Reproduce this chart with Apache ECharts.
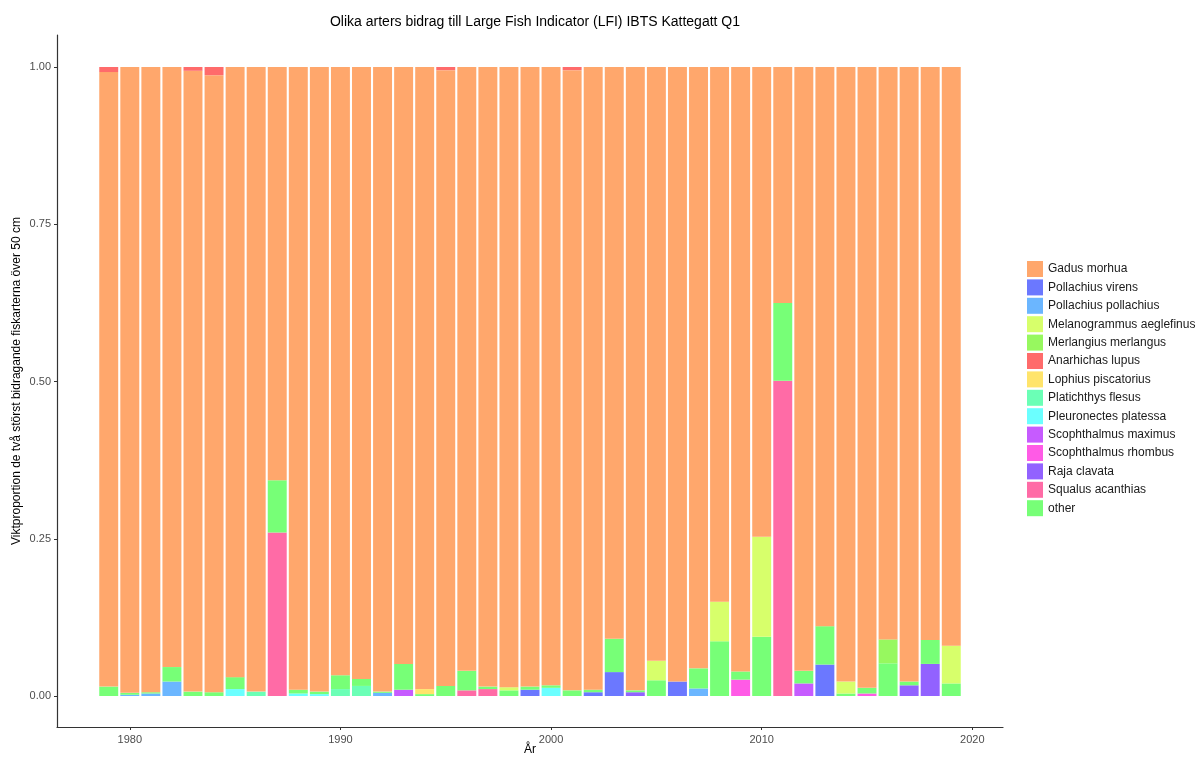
<!DOCTYPE html>
<html>
<head>
<meta charset="utf-8">
<script src="https://cdn.jsdelivr.net/npm/echarts@6/dist/echarts.min.js"></script>
<style>
html,body{margin:0;padding:0;background:#fff;}
#chart{width:1204px;height:758px;}
</style>
</head>
<body>
<div id="chart"></div>
<script>
// years on the x axis
var years=['1979','1980','1981','1982','1983','1984','1985','1986','1987','1988','1989','1990','1991','1992','1993','1994','1995','1996','1997','1998','1999','2000','2001','2002','2003','2004','2005','2006','2007','2008','2009','2010','2011','2012','2013','2014','2015','2016','2017','2018','2019'];
var yTicks=[0,0.25,0.5,0.75,1];
var xTicks=[1980,1990,2000,2010,2020];

// weight proportion per species and year
//                 1979  80    81    82    83    84    85    86    87    88    89    90    91    92    93    94    95    96    97    98    99    2000  01    02    03    04    05    06    07    08    09    10    11    12    13    14    15    16    17    18    19
var squalus      =[0,    0,    0,    0,    0,    0,    0,    0,    0.260,0,    0,    0,    0,    0,    0,    0,    0,    0.009,0.011,0,    0,    0,    0,    0,    0,    0,    0,    0,    0,    0,    0,    0,    0.501,0,    0,    0,    0,    0,    0,    0,    0];
var sRhombus     =[0,    0,    0,    0,    0,    0,    0,    0,    0,    0,    0,    0,    0,    0,    0,    0,    0,    0,    0,    0,    0,    0,    0,    0,    0,    0,    0,    0,    0,    0,    0.026,0,    0,    0,    0,    0,    0.004,0,    0,    0,    0];
var sMaximus     =[0,    0,    0,    0,    0,    0,    0,    0,    0,    0,    0,    0,    0,    0,    0.010,0,    0,    0,    0,    0,    0,    0,    0,    0,    0,    0,    0,    0,    0,    0,    0,    0,    0,    0.020,0,    0,    0,    0,    0,    0,    0];
var raja         =[0,    0,    0,    0,    0,    0,    0,    0,    0,    0,    0,    0,    0,    0,    0,    0,    0,    0,    0,    0,    0,    0,    0,    0,    0,    0.006,0,    0,    0,    0,    0,    0,    0,    0,    0,    0,    0,    0,    0.017,0.051,0];
var pVirens      =[0,    0,    0,    0,    0,    0,    0,    0,    0,    0,    0,    0,    0,    0,    0,    0,    0,    0,    0,    0,    0.010,0,    0,    0.006,0.038,0,    0,    0.023,0,    0,    0,    0,    0,    0,    0.050,0,    0,    0,    0,    0,    0];
var pPollachius  =[0,    0.002,0.004,0.023,0,    0,    0,    0,    0,    0,    0,    0,    0,    0.005,0,    0,    0,    0,    0,    0,    0,    0,    0,    0,    0,    0,    0,    0,    0.012,0,    0,    0,    0,    0,    0,    0,    0,    0,    0,    0,    0];
var pleuronectes =[0,    0,    0,    0,    0,    0,    0.011,0,    0,    0.004,0.003,0,    0,    0,    0,    0,    0,    0,    0,    0,    0,    0.013,0,    0,    0,    0,    0,    0,    0,    0,    0,    0,    0,    0,    0,    0,    0,    0,    0,    0,    0];
var platichthys  =[0,    0,    0,    0,    0,    0,    0,    0.007,0,    0,    0,    0.011,0.016,0,    0,    0,    0,    0,    0,    0,    0,    0,    0,    0,    0,    0,    0,    0,    0,    0,    0,    0,    0,    0,    0,    0,    0,    0,    0,    0,    0];
var other        =[0.015,0.003,0.002,0.023,0.007,0.006,0.019,0,    0.083,0.006,0.004,0.022,0.011,0.002,0.041,0.003,0.016,0.031,0.004,0.009,0.005,0.004,0.009,0.004,0.053,0.003,0.025,0,    0.032,0.087,0.013,0.094,0.124,0.020,0.061,0.004,0.009,0.052,0.006,0.038,0.020];
var merlangius   =[0,    0,    0,    0,    0,    0,    0,    0,    0,    0,    0,    0,    0,    0,    0,    0,    0,    0,    0,    0,    0,    0,    0,    0,    0,    0,    0,    0,    0,    0,    0,    0,    0,    0,    0,    0,    0,    0.038,0,    0,    0];
var melanogrammus=[0,    0,    0,    0,    0,    0,    0,    0,    0,    0,    0,    0,    0,    0,    0,    0,    0,    0,    0,    0.005,0,    0,    0,    0,    0,    0,    0.031,0,    0,    0.063,0,    0.159,0,    0,    0,    0.019,0,    0,    0,    0,    0.060];
var lophius      =[0,    0,    0,    0,    0,    0,    0,    0,    0,    0,    0,    0,    0,    0,    0,    0.008,0,    0,    0,    0,    0,    0,    0,    0,    0,    0,    0,    0,    0,    0,    0,    0,    0,    0,    0,    0,    0,    0,    0,    0,    0];
var gadus        =[0.977,0.995,0.994,0.954,0.987,0.981,0.970,0.993,0.657,0.990,0.993,0.967,0.973,0.993,0.949,0.989,0.979,0.960,0.985,0.986,0.985,0.983,0.986,0.990,0.909,0.991,0.944,0.977,0.956,0.850,0.961,0.747,0.375,0.960,0.889,0.977,0.987,0.910,0.977,0.911,0.920];
var anarhichas   =[0.008,0,    0,    0,    0.006,0.013,0,    0,    0,    0,    0,    0,    0,    0,    0,    0,    0.005,0,    0,    0,    0,    0,    0.005,0,    0,    0,    0,    0,    0,    0,    0,    0,    0,    0,    0,    0,    0,    0,    0,    0,    0];

// stacking order from the bottom up
var stackOrder=[
	{name:'Squalus acanthias',data:squalus,color:'#FF6BA6'},
	{name:'Scophthalmus rhombus',data:sRhombus,color:'#FF5BE6'},
	{name:'Scophthalmus maximus',data:sMaximus,color:'#C65BFF'},
	{name:'Raja clavata',data:raja,color:'#9262FF'},
	{name:'Pollachius virens',data:pVirens,color:'#6B78FF'},
	{name:'Pollachius pollachius',data:pPollachius,color:'#6BB6FF'},
	{name:'Pleuronectes platessa',data:pleuronectes,color:'#6BFFFF'},
	{name:'Platichthys flesus',data:platichthys,color:'#6BFFB6'},
	{name:'other',data:other,color:'#77FF77'},
	{name:'Merlangius merlangus',data:merlangius,color:'#97F85F'},
	{name:'Melanogrammus aeglefinus',data:melanogrammus,color:'#D7FF6B'},
	{name:'Lophius piscatorius',data:lophius,color:'#FFE46B'},
	{name:'Gadus morhua',data:gadus,color:'#FFA76C'},
	{name:'Anarhichas lupus',data:anarhichas,color:'#FF6B6B'}
];
var legendOrder=['Gadus morhua','Pollachius virens','Pollachius pollachius','Melanogrammus aeglefinus','Merlangius merlangus','Anarhichas lupus','Lophius piscatorius','Platichthys flesus','Pleuronectes platessa','Scophthalmus maximus','Scophthalmus rhombus','Raja clavata','Squalus acanthias','other'];

var FONT='Liberation Sans, Arial, sans-serif';
var chart=echarts.init(document.getElementById('chart'));

var series=[];
for(var i=0;i<stackOrder.length;i++){
	var s=stackOrder[i];
	series.push({
		name:s.name,
		type:'bar',
		stack:'total',
		xAxisIndex:1,
		yAxisIndex:1,
		barWidth:'90%',
		itemStyle:{color:s.color},
		data:s.data
	});
}

// grid 0: panel frame, grid 1: bars, grid 2: y ticks, grid 3: x ticks
var option={
	animation:false,
	backgroundColor:'#ffffff',
	textStyle:{fontFamily:FONT},
	title:{
		text:'Olika arters bidrag till Large Fish Indicator (LFI) IBTS Kattegatt Q1',
		left:530,
		top:10,
		textAlign:'center',
		textStyle:{fontSize:14,fontWeight:'normal',color:'#000000',fontFamily:FONT}
	},
	legend:{
		data:legendOrder,
		orient:'vertical',
		left:1022,
		top:256,
		itemWidth:16,
		itemHeight:16,
		itemGap:2.4,
		icon:'rect',
		selectedMode:false,
		textStyle:{fontSize:12,color:'#1a1a1a',fontFamily:FONT}
	},
	grid:[
		{left:57,right:201,top:35,bottom:31,outerBoundsMode:'none'},
		{left:98.2,right:242.2,top:67,bottom:62,outerBoundsMode:'none'},
		{left:57,right:201,top:67,bottom:62,outerBoundsMode:'none'},
		{left:129.8,right:231.7,top:35,bottom:31,outerBoundsMode:'none'}
	],
	xAxis:[
		{
			type:'value',gridIndex:0,min:0,max:1,
			name:'År',nameLocation:'middle',nameGap:17,
			nameTextStyle:{fontSize:12,color:'#000000',fontFamily:FONT},
			axisLine:{show:true,onZero:false,lineStyle:{color:'#333333',width:1.2}},
			axisTick:{show:false},axisLabel:{show:false},splitLine:{show:false}
		},
		{
			type:'category',gridIndex:1,data:years,boundaryGap:true,
			axisLine:{show:false},axisTick:{show:false},axisLabel:{show:false},splitLine:{show:false}
		},
		{type:'value',gridIndex:2,show:false},
		{
			type:'value',gridIndex:3,min:xTicks[0],max:xTicks[xTicks.length-1],interval:10,
			axisLine:{show:false,onZero:false},
			axisTick:{show:true,length:3,lineStyle:{color:'#333333'}},
			axisLabel:{color:'#4d4d4d',fontSize:11,margin:7,fontFamily:FONT,
				formatter:function(v){return String(v);}},
			splitLine:{show:false}
		}
	],
	yAxis:[
		{
			type:'value',gridIndex:0,min:0,max:1,
			name:'Viktproportion de två störst bidragande fiskarterna över 50 cm',
			nameLocation:'middle',nameGap:34,nameRotate:90,
			nameTextStyle:{fontSize:12,color:'#000000',fontFamily:FONT},
			axisLine:{show:true,onZero:false,lineStyle:{color:'#333333',width:1.2}},
			axisTick:{show:false},axisLabel:{show:false},splitLine:{show:false}
		},
		{type:'value',gridIndex:1,min:0,max:1,show:false},
		{
			type:'value',gridIndex:2,min:yTicks[0],max:yTicks[yTicks.length-1],interval:0.25,
			axisLine:{show:false,onZero:false},
			axisTick:{show:true,length:3,lineStyle:{color:'#333333'}},
			axisLabel:{color:'#4d4d4d',fontSize:11,margin:6,fontFamily:FONT,
				formatter:function(v){return v.toFixed(2);}},
			splitLine:{show:false}
		},
		{type:'value',gridIndex:3,show:false}
	],
	series:series
};
chart.setOption(option);
</script>
</body>
</html>
